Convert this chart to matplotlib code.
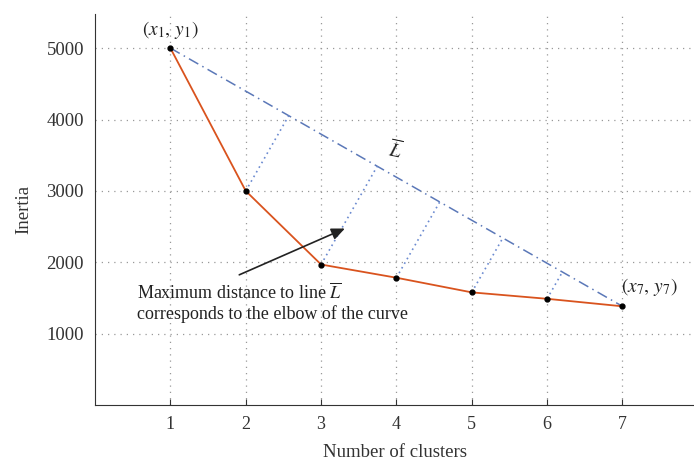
import matplotlib
matplotlib.use("Agg")
import matplotlib.pyplot as plt
import numpy as np

clusters = [1, 2, 3, 4, 5, 6, 7]
inertia = [5000, 3000, 1970, 1785, 1580, 1490, 1385]
y_ticks = [1000, 2000, 3000, 4000, 5000]

plt.rcParams["font.family"] = ["Liberation Serif", "DejaVu Serif"]
plt.rcParams["mathtext.fontset"] = "stix"

fig = plt.figure(figsize=(6.94, 4.61), dpi=100)
ax = fig.add_axes([0.137, 0.121, 0.863, 0.849])
ax.set_xlim(0, 7.95)
ax.set_ylim(0, 5480)

ax.set_xticks(clusters)
ax.set_yticks(y_ticks)
ax.grid(True, ls=(0, (1, 4)), color="#999999", lw=0.9)
for s in ["top", "right"]:
    ax.spines[s].set_visible(False)
for s in ["left", "bottom"]:
    ax.spines[s].set_color("#333333")
ax.tick_params(axis="x", direction="in", length=4, labelsize=13, colors="#333333", pad=8)
ax.tick_params(axis="y", length=0, labelsize=13.5, colors="#333333", pad=8)
ax.set_xlabel("Number of clusters", fontsize=13.5, color="#333333", labelpad=8)
ax.set_ylabel("Inertia", fontsize=13.5, color="#333333", labelpad=10)

x = np.array(clusters, dtype=float)
y = np.array(inertia, dtype=float)

# line L between first and last point
ax.plot([x[0], x[-1]], [y[0], y[-1]], color="#5b78b8", lw=1.1, ls=(0, (7, 3, 1, 3)))

# perpendicular feet, computed in display space so they look perpendicular
fig.canvas.draw()
to_disp = ax.transData
to_data = ax.transData.inverted()
p1 = to_disp.transform((x[0], y[0]))
p7 = to_disp.transform((x[-1], y[-1]))
d = (p7 - p1) / np.linalg.norm(p7 - p1)
for xi, yi in zip(x[1:-1], y[1:-1]):
    p = to_disp.transform((xi, yi))
    foot = p1 + np.dot(p - p1, d) * d
    fx, fy = to_data.transform(foot)
    ax.plot([xi, fx], [yi, fy], color="#6b8ad0", lw=1.2, ls=(0, (1, 2.2)))

ax.plot(x, y, color="#d9531e", lw=1.3, zorder=3)
ax.plot(x, y, "o", color="black", ms=3.5, zorder=4)

ax.text(x[0], y[0] + 100, r"$(x_1,\,y_1)$", fontsize=14, ha="center", va="bottom", color="#222222")
ax.text(x[-1] - 0.02, y[-1] + 120, r"$(x_7,\,y_7)$", fontsize=14, ha="left", va="bottom", color="#222222")
ax.text(3.98, 3400, r"$\overline{L}$", fontsize=14, ha="center", va="bottom", color="#222222", rotation=-12)

ax.annotate("", xy=(3.35, 2490), xytext=(1.88, 1810),
            arrowprops=dict(arrowstyle="-|>,head_length=0.8,head_width=0.35", color="#222222", lw=1.2))
ax.text(0.56, 1430, "Maximum distance to line $\\overline{L}$\ncorresponds to the elbow of the curve",
        fontsize=13, ha="left", va="center", color="#222222", linespacing=1.15)

fig.savefig("out.png", dpi=100)
